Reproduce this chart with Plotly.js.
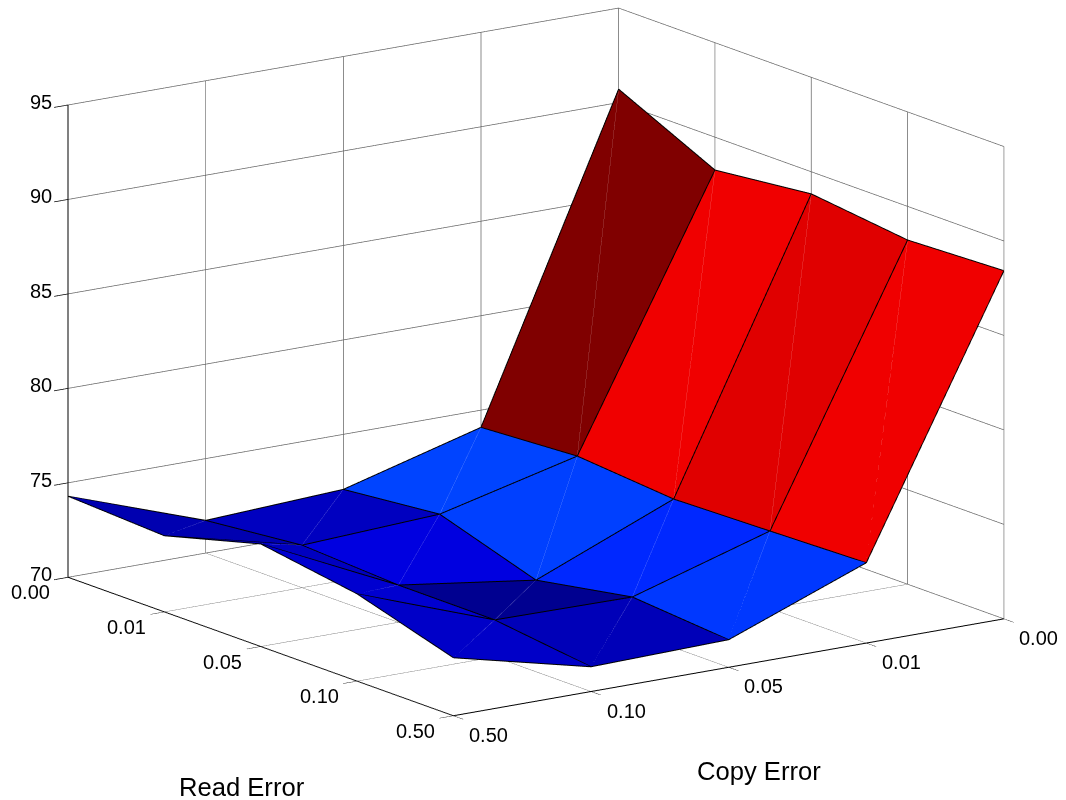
<!DOCTYPE html>
<html><head><meta charset="utf-8">
<script src="https://cdn.plot.ly/plotly-3.0.1.min.js"></script>
<style>html,body{margin:0;padding:0;background:#fff}#c{width:1066px;height:800px}</style>
</head><body><div id="c"></div>
<script>
const readErrorLabels = ['0.00','0.01','0.05','0.10','0.50'];
const copyErrorLabels = ['0.50','0.10','0.05','0.01','0.00'];
const zTicks = [70,75,80,85,90,95];
// rows: read error, columns: copy error
const row000 = [74.29,71.73,72.09,74.09,90.71];
const row001 = [74.03,72.25,72.61,74.40,88.26];
const row005 = [75.43,71.97,70.95,73.96,88.83];
const row010 = [74.62,71.96,71.89,74.10,88.22];
const row050 = [73.07,71.31,71.46,74.25,88.43];
const accuracy = [row000,row001,row005,row010,row050];
const faceColors = [
  ['#0000B0','#0000C0','#0044FF','#800000'],
  ['#0000C0','#0000E0','#0040FF','#F00000'],
  ['#0000D0','#000090','#0028FF','#E00000'],
  ['#0000C8','#0000B8','#0038FF','#F00000']
];
const nR = readErrorLabels.length, nC = copyErrorLabels.length;
const xs=[],ys=[],zs=[];
accuracy.forEach((row,r)=>row.forEach((v,c)=>{xs.push(r);ys.push(c);zs.push(v);}));
const id=(r,c)=>r*nC+c;
const I=[],J=[],K=[],fc=[];
for(let r=0;r<nR-1;r++)for(let c=0;c<nC-1;c++){
  I.push(id(r,c),id(r,c+1));J.push(id(r,c+1),id(r+1,c+1));K.push(id(r+1,c),id(r+1,c));
  fc.push(faceColors[r][c],faceColors[r][c]);
}
const mesh={type:'mesh3d',x:xs,y:ys,z:zs,i:I,j:J,k:K,facecolor:fc,flatshading:true,hoverinfo:'skip',showscale:false,
  lighting:{ambient:1,diffuse:0,specular:0,fresnel:0,roughness:1},lightposition:{x:0,y:0,z:1e5}};
// lines are nudged slightly along the line of sight so they sit in front of the faces without moving on screen
const dir=[0.793,-0.555,0.2515];
const aspect={x:1.68,y:1.68,z:1.22};
const eps=0.02;
const onEdge=(r,c)=>r===nR-1||c===0;
const vx=(r,c)=>onEdge(r,c)?r:r+eps*dir[0]/(aspect.x/4);
const vy=(r,c)=>onEdge(r,c)?c:c+eps*dir[1]/(aspect.y/4);
const vz=(r,c)=>onEdge(r,c)?accuracy[r][c]:accuracy[r][c]+eps*dir[2]/(aspect.z/25);
const ex=[],ey=[],ez=[];
const put=(r,c)=>{ex.push(vx(r,c));ey.push(vy(r,c));ez.push(vz(r,c));};
const brk=()=>{ex.push(null);ey.push(null);ez.push(null);};
for(let r=0;r<nR;r++){for(let c=0;c<nC;c++)put(r,c);brk();}
for(let c=0;c<nC;c++){for(let r=0;r<nR;r++)put(r,c);brk();}
const edges={type:'scatter3d',mode:'lines',x:ex,y:ey,z:ez,line:{color:'#000',width:2},hoverinfo:'skip',showlegend:false};
const dx=[],dy=[],dz=[];
for(let r=0;r<nR-1;r++)for(let c=0;c<nC-1;c++){
  dx.push(vx(r,c+1),vx(r+1,c),null);dy.push(vy(r,c+1),vy(r+1,c),null);dz.push(vz(r,c+1),vz(r+1,c),null);}
const diags={type:'scatter3d',mode:'lines',x:dx,y:dy,z:dz,opacity:0.25,line:{color:'#fff',width:1},hoverinfo:'skip',showlegend:false};
const D=2, cz=-0.0984;
const FONT='Liberation Sans, Arial, sans-serif';
const axis=(vals,range,ticks)=>({range,autorange:false,tickmode:'array',tickvals:vals,showticklabels:false,ticks,ticklen:17,tickcolor:'#000',tickwidth:1.5,
  showgrid:true,gridcolor:'#666',gridwidth:1.5,showline:true,linecolor:'#000',linewidth:2,zeroline:false,showbackground:false,showspikes:false,title:{text:''}});
const ann=(x,y,z,text,xshift,yshift)=>({x,y,z,text,xshift,yshift,showarrow:false,xanchor:'center',yanchor:'middle',font:{family:FONT,size:20,color:'#000'}});
const sceneAnn=[
  ...readErrorLabels.map((t,r)=>ann(r,0,70,t,-38,-15)),
  ...copyErrorLabels.map((t,c)=>ann(4,c,70,t,35,-19)),
  ...zTicks.map(v=>ann(0,0,v,String(v),-27,3))
];
const layout={width:1066,height:800,margin:{l:0,r:0,t:0,b:0},paper_bgcolor:'#fff',showlegend:false,
 scene:{domain:{x:[0.0056,1],y:[0,1]},aspectmode:'manual',aspectratio:aspect,
  camera:{projection:{type:'orthographic'},up:{x:0,y:0,z:1},center:{x:0,y:0,z:cz},eye:{x:dir[0]*D,y:dir[1]*D,z:dir[2]*D+cz}},
  xaxis:axis([0,1,2,3,4],[0,4],'inside'),
  yaxis:axis([0,1,2,3,4],[0,4],'outside'),
  zaxis:axis(zTicks,[70,95],'outside'),
  annotations:sceneAnn},
 annotations:[
  {xref:'paper',yref:'paper',x:242/1066,y:1-787/800,xanchor:'center',yanchor:'middle',text:'Read Error',showarrow:false,font:{family:FONT,size:25.6,color:'#000'}},
  {xref:'paper',yref:'paper',x:759/1066,y:1-771/800,xanchor:'center',yanchor:'middle',text:'Copy Error',showarrow:false,font:{family:FONT,size:25.6,color:'#000'}}
 ]};
Plotly.newPlot('c',[mesh,edges,diags],layout,{displayModeBar:false});
</script></body></html>
